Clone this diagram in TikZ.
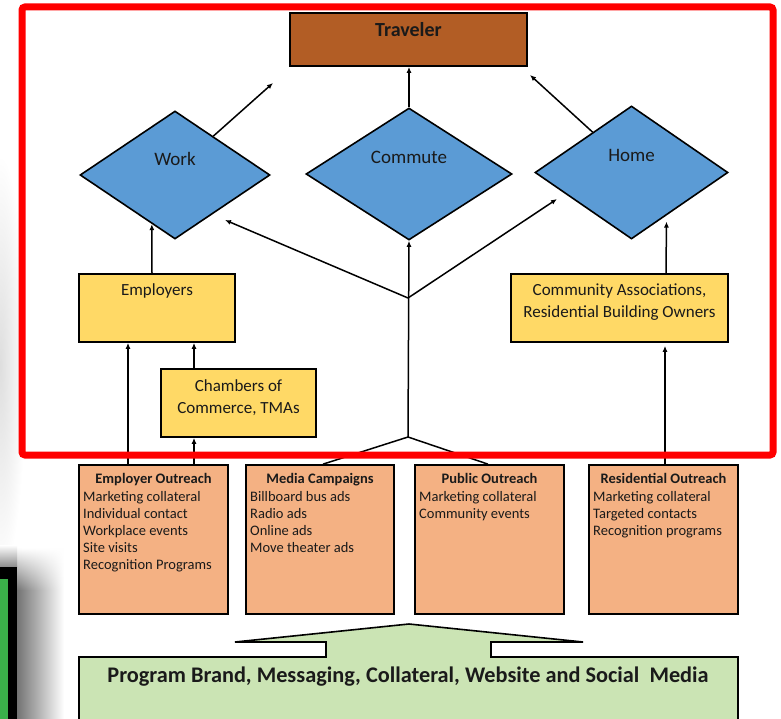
\documentclass[tikz,border=0pt]{standalone}
\usepackage{fontspec}
\setmainfont{Carlito}
\usetikzlibrary{shapes.geometric,arrows.meta,calc,fadings}
\definecolor{brownbox}{HTML}{B25D25}
\definecolor{bluedia}{HTML}{5B9BD5}
\definecolor{yellowbox}{HTML}{FFD966}
\definecolor{orangebox}{HTML}{F4B183}
\definecolor{greenbox}{HTML}{CBE4B4}
\definecolor{redframe}{HTML}{FF0000}
\definecolor{darkgreen}{HTML}{3BB04A}
\definecolor{txt}{HTML}{1A1A1A}
\begin{document}
\begin{tikzpicture}[x=1pt,y=-1pt,
  box/.style={draw=black, rectangle, inner sep=0pt, line width=1.7pt},
  dia/.style={draw=black, diamond, inner sep=0pt, fill=bluedia, line width=1.6pt},
  arr/.style={-{Latex[length=6pt,width=5pt]}, line width=1.5pt},
  ln/.style={line width=1.5pt},
  dlbl/.style={inner sep=0pt, anchor=base, text=txt, font=\fontsize{19}{22}\selectfont},
  ylbl/.style={inner sep=0pt, anchor=base, text=txt, font=\fontsize{17}{20}\selectfont},
  otitle/.style={inner sep=0pt, anchor=base, text=txt, font=\fontsize{14.5}{17}\selectfont\bfseries},
  oitem/.style={inner sep=0pt, anchor=base west, text=txt, font=\fontsize{14.5}{17}\selectfont},
]
\useasboundingbox (0,0) rectangle (781,719);
\clip (0,0) rectangle (781,719);
\fill[white] (0,0) rectangle (781,719);
% faint glow at left edge
\shade[inner color=black!13, outer color=white] (0,365) ellipse (26 and 210);
% shadow round the black box
\shade[left color=black!55, right color=white] (17,590) rectangle (64,725);
\shade[left color=black!55, right color=white, path fading=north] (17,548) rectangle (64,590.5);
\shade[top color=white, bottom color=black!45] (0,545) rectangle (17,567);
\fill[black] (0,567) rectangle (17,725);
\fill[darkgreen] (0,579) rectangle (8,725);

% top row
\node[box, fill=brownbox, minimum width=237pt, minimum height=53pt] (trav) at (408.5,39.5) {};
\node[inner sep=0pt, anchor=base, text=txt, font=\fontsize{20}{24}\selectfont\bfseries] (travt) at (408.5,37) {Traveler};

% diamonds
\node[dia, minimum width=190pt, minimum height=128pt] (work) at (175,175) {};
\node[dlbl] (workt) at (175,166) {Work};
\node[dia, minimum width=206pt, minimum height=132pt] (comm) at (409,174) {};
\node[dlbl] (commt) at (409,164) {Commute};
\node[dia, minimum width=193pt, minimum height=133pt] (home) at (631.5,172.5) {};
\node[dlbl] (homet) at (631.5,162) {Home};

% yellow boxes
\node[box, fill=yellowbox, minimum width=156pt, minimum height=68pt] (emp) at (157,308) {};
\node[ylbl] (empt) at (157,295) {Employers};
\node[box, fill=yellowbox, minimum width=155pt, minimum height=68pt] (ch) at (238.5,403) {};
\node[ylbl] (cht1) at (238.5,391) {Chambers of};
\node[ylbl] (cht2) at (238.5,413) {Commerce, TMAs};
\node[box, fill=yellowbox, minimum width=217pt, minimum height=68pt] (cab) at (619.5,308) {};
\node[ylbl] (cabt1) at (619.5,295) {Community Associations,};
\node[ylbl] (cabt2) at (619.5,317) {Residential Building Owners};

% outreach boxes
\node[box, fill=orangebox, minimum width=149pt, minimum height=149pt] (eo) at (153.5,539.5) {};
\node[box, fill=orangebox, minimum width=148pt, minimum height=149pt] (mc) at (320,539.5) {};
\node[box, fill=orangebox, minimum width=149pt, minimum height=149pt] (po) at (489.5,539.5) {};
\node[box, fill=orangebox, minimum width=149pt, minimum height=149pt] (ro) at (663.5,539.5) {};
\node[otitle] (eot) at (153.5,483) {Employer Outreach};
\node[otitle] (mct) at (320,483) {Media Campaigns};
\node[otitle] (pot) at (489.5,483) {Public Outreach};
\node[otitle] (rot) at (663.5,483) {Residential Outreach};
\foreach \t [count=\i] in {Marketing collateral, Individual contact, Workplace events, Site visits, Recognition Programs}
  \node[oitem] (eoi\i) at (83,{501+17*(\i-1)}) {\t};
\foreach \t [count=\i] in {Billboard bus ads, Radio ads, Online ads, Move theater ads}
  \node[oitem] (mci\i) at (250,{501+17*(\i-1)}) {\t};
\foreach \t [count=\i] in {Marketing collateral, Community events}
  \node[oitem] (poi\i) at (419,{501+17*(\i-1)}) {\t};
\foreach \t [count=\i] in {Marketing collateral, Targeted contacts, Recognition programs}
  \node[oitem] (roi\i) at (593,{501+17*(\i-1)}) {\t};

% green block arrow
\draw[fill=greenbox, line width=1.6pt, line join=miter]
  (79,730) -- (79,657) -- (326,657) -- (326,642) -- (235,642) -- (409,624)
  -- (583,642) -- (491,642) -- (491,657) -- (738,657) -- (738,730);
\node[inner sep=0pt, anchor=base, text=txt, font=\fontsize{22.3}{26}\selectfont\bfseries] (gt) at (408,682)
  {Program Brand, Messaging, Collateral, Website and Social\ \ Media};

% connectors
\coordinate (wt) at (273,83);
\coordinate (ht) at (530,75);
\coordinate (j1) at (408,298);
\coordinate (j0) at (408,437);
\coordinate (wa) at (225,220);
\coordinate (ha) at (557,199);

\draw[arr] ($(work.north)!0.4!(work.east)$) -- (wt);
\draw[arr] ($(home.north)!0.4!(home.west)$) -- (ht);
\draw[arr] (comm.north) -- (comm.north |- trav.south);
\draw[arr] (j0) -- (comm.south);
\draw[arr] (j1) -- (wa);
\draw[arr] (j1) -- (ha);
\draw[ln] ([xshift=3pt]mc.north) -- (j0) -- ([xshift=-1.5pt]po.north);
\draw[arr] ([xshift=-5pt]emp.north) -- ($(work.west)!0.758!(work.south)$);
\draw[arr] ([xshift=-25.5pt]eo.north) -- ([xshift=-25.5pt]eo.north |- emp.south);
\draw[arr] ([xshift=40.5pt]eo.north) -- ([xshift=40.5pt]eo.north |- ch.south);
\draw[arr] ([xshift=-44.5pt]ch.north) -- ([xshift=-44.5pt]ch.north |- emp.south);
\draw[arr, shorten >=3pt] ([xshift=1.5pt]ro.north) -- ([xshift=1.5pt]ro.north |- cab.south);
\draw[arr, shorten >=6pt] ([xshift=46.5pt]cab.north) -- ($(home.east)!0.64!(home.south)$);

% red frame
\draw[redframe, line width=7pt, rounded corners=3pt] (22,7) rectangle (773,455);
\end{tikzpicture}
\end{document}
